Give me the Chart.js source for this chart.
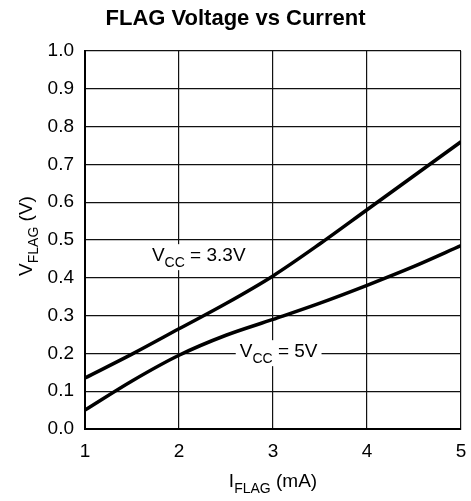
<!DOCTYPE html>
<html>
<head>
<meta charset="utf-8">
<script src="https://cdn.jsdelivr.net/npm/chart.js@4"></script>
<style>
html,body{margin:0;padding:0;background:#fff;}
#wrap{width:471px;height:501px;}
</style>
</head>
<body>
<div id="wrap"><canvas id="c" width="471" height="501"></canvas></div>
<script>
const iFlag = [1, 1.5, 2, 2.5, 3, 3.5, 4, 4.5, 5];
const vFlag33 = [0.135, 0.198, 0.265, 0.332, 0.405, 0.49, 0.58, 0.67, 0.76];
const vFlag5 = [0.05, 0.127, 0.195, 0.248, 0.29, 0.333, 0.38, 0.43, 0.485];
const xTicks = [1, 2, 3, 4, 5];
const yTicks = [0, 0.1, 0.2, 0.3, 0.4, 0.5, 0.6, 0.7, 0.8, 0.9, 1.0];
const chartTitle = 'FLAG Voltage vs Current';
const curveLabels = [
  {main: 'V', sub: 'CC', rest: ' = 3.3V', x: 2.21, y: 0.444},
  {main: 'V', sub: 'CC', rest: ' = 5V', x: 3.06, y: 0.19}
];

const FONT = "'Liberation Sans', Arial, Helvetica, sans-serif";

function drawSub(ctx, x, y, main, sub, rest, size, subSize, align) {
  ctx.font = size + 'px ' + FONT;
  const wMain = ctx.measureText(main).width;
  const wRest = ctx.measureText(rest).width;
  ctx.font = subSize + 'px ' + FONT;
  const wSub = ctx.measureText(sub).width;
  const total = wMain + wSub + wRest;
  let sx = align === 'center' ? x - total / 2 : x;
  ctx.textBaseline = 'alphabetic';
  ctx.textAlign = 'left';
  ctx.font = size + 'px ' + FONT;
  ctx.fillText(main, sx, y);
  ctx.font = subSize + 'px ' + FONT;
  ctx.fillText(sub, sx + wMain, y + size * 0.3);
  ctx.font = size + 'px ' + FONT;
  ctx.fillText(rest, sx + wMain + wSub, y);
  return total;
}

function measureSub(ctx, main, sub, rest, size, subSize) {
  ctx.font = size + 'px ' + FONT;
  const w1 = ctx.measureText(main + rest).width;
  ctx.font = subSize + 'px ' + FONT;
  return w1 + ctx.measureText(sub).width;
}

const textPlugin = {
  id: 'textPlugin',
  afterDraw(chart) {
    const ctx = chart.ctx;
    const a = chart.chartArea;
    const xs = chart.scales.x, ys = chart.scales.y;
    ctx.save();
    curveLabels.forEach(l => {
      const px = xs.getPixelForValue(l.x);
      const py = ys.getPixelForValue(l.y);
      const w = measureSub(ctx, l.main, l.sub, l.rest, 19, 14);
      ctx.fillStyle = '#fff';
      ctx.fillRect(px - w / 2 - 4, py - 17, w + 8, 26);
      ctx.fillStyle = '#000';
      drawSub(ctx, px, py, l.main, l.sub, l.rest, 19, 14, 'center');
    });
    drawSub(ctx, (a.left + a.right) / 2, 487, 'I', 'FLAG', ' (mA)', 19, 14, 'center');
    ctx.save();
    ctx.translate(32, 236);
    ctx.rotate(-Math.PI / 2);
    drawSub(ctx, 0, 0, 'V', 'FLAG', ' (V)', 19, 14, 'center');
    ctx.restore();
    ctx.restore();
  }
};

new Chart(document.getElementById('c'), {
  type: 'line',
  data: {
    datasets: [
      {label: 'VCC = 3.3V', data: iFlag.map((x, i) => ({x: x, y: vFlag33[i]})),
       borderColor: '#000', borderWidth: 3.5, pointRadius: 0, cubicInterpolationMode: 'monotone', fill: false},
      {label: 'VCC = 5V', data: iFlag.map((x, i) => ({x: x, y: vFlag5[i]})),
       borderColor: '#000', borderWidth: 3.5, pointRadius: 0, cubicInterpolationMode: 'monotone', fill: false}
    ]
  },
  options: {
    responsive: false,
    animation: false,
    devicePixelRatio: 1,
    layout: {padding: {left: 0, right: 0, top: 0, bottom: 0}},
    plugins: {
      legend: {display: false},
      tooltip: {enabled: false},
      title: {
        display: true, text: chartTitle, color: '#000',
        font: {family: FONT, size: 22, weight: 'bold'},
        padding: {top: 6, bottom: 18.6}
      }
    },
    scales: {
      x: {
        type: 'linear', min: 1, max: 5,
        afterBuildTicks: s => { s.ticks = xTicks.map(v => ({value: v})); },
        afterFit: s => { s.height = 72; s.paddingRight = 10; s.paddingLeft = 0; },
        ticks: {color: '#000', font: {family: FONT, size: 19}, padding: 11, maxRotation: 0,
                callback: v => String(v)},
        grid: {color: '#111', lineWidth: 1.2, drawTicks: false},
        border: {color: '#000', width: 2}
      },
      y: {
        min: 0, max: 1,
        afterBuildTicks: s => { s.ticks = yTicks.map(v => ({value: v})); },
        afterFit: s => { s.width = 85; },
        ticks: {color: '#000', font: {family: FONT, size: 19}, padding: 11,
                callback: v => Number(v).toFixed(1)},
        grid: {color: '#111', lineWidth: 1.2, drawTicks: false},
        border: {color: '#000', width: 2}
      }
    }
  },
  plugins: [textPlugin]
});
</script>
</body>
</html>
